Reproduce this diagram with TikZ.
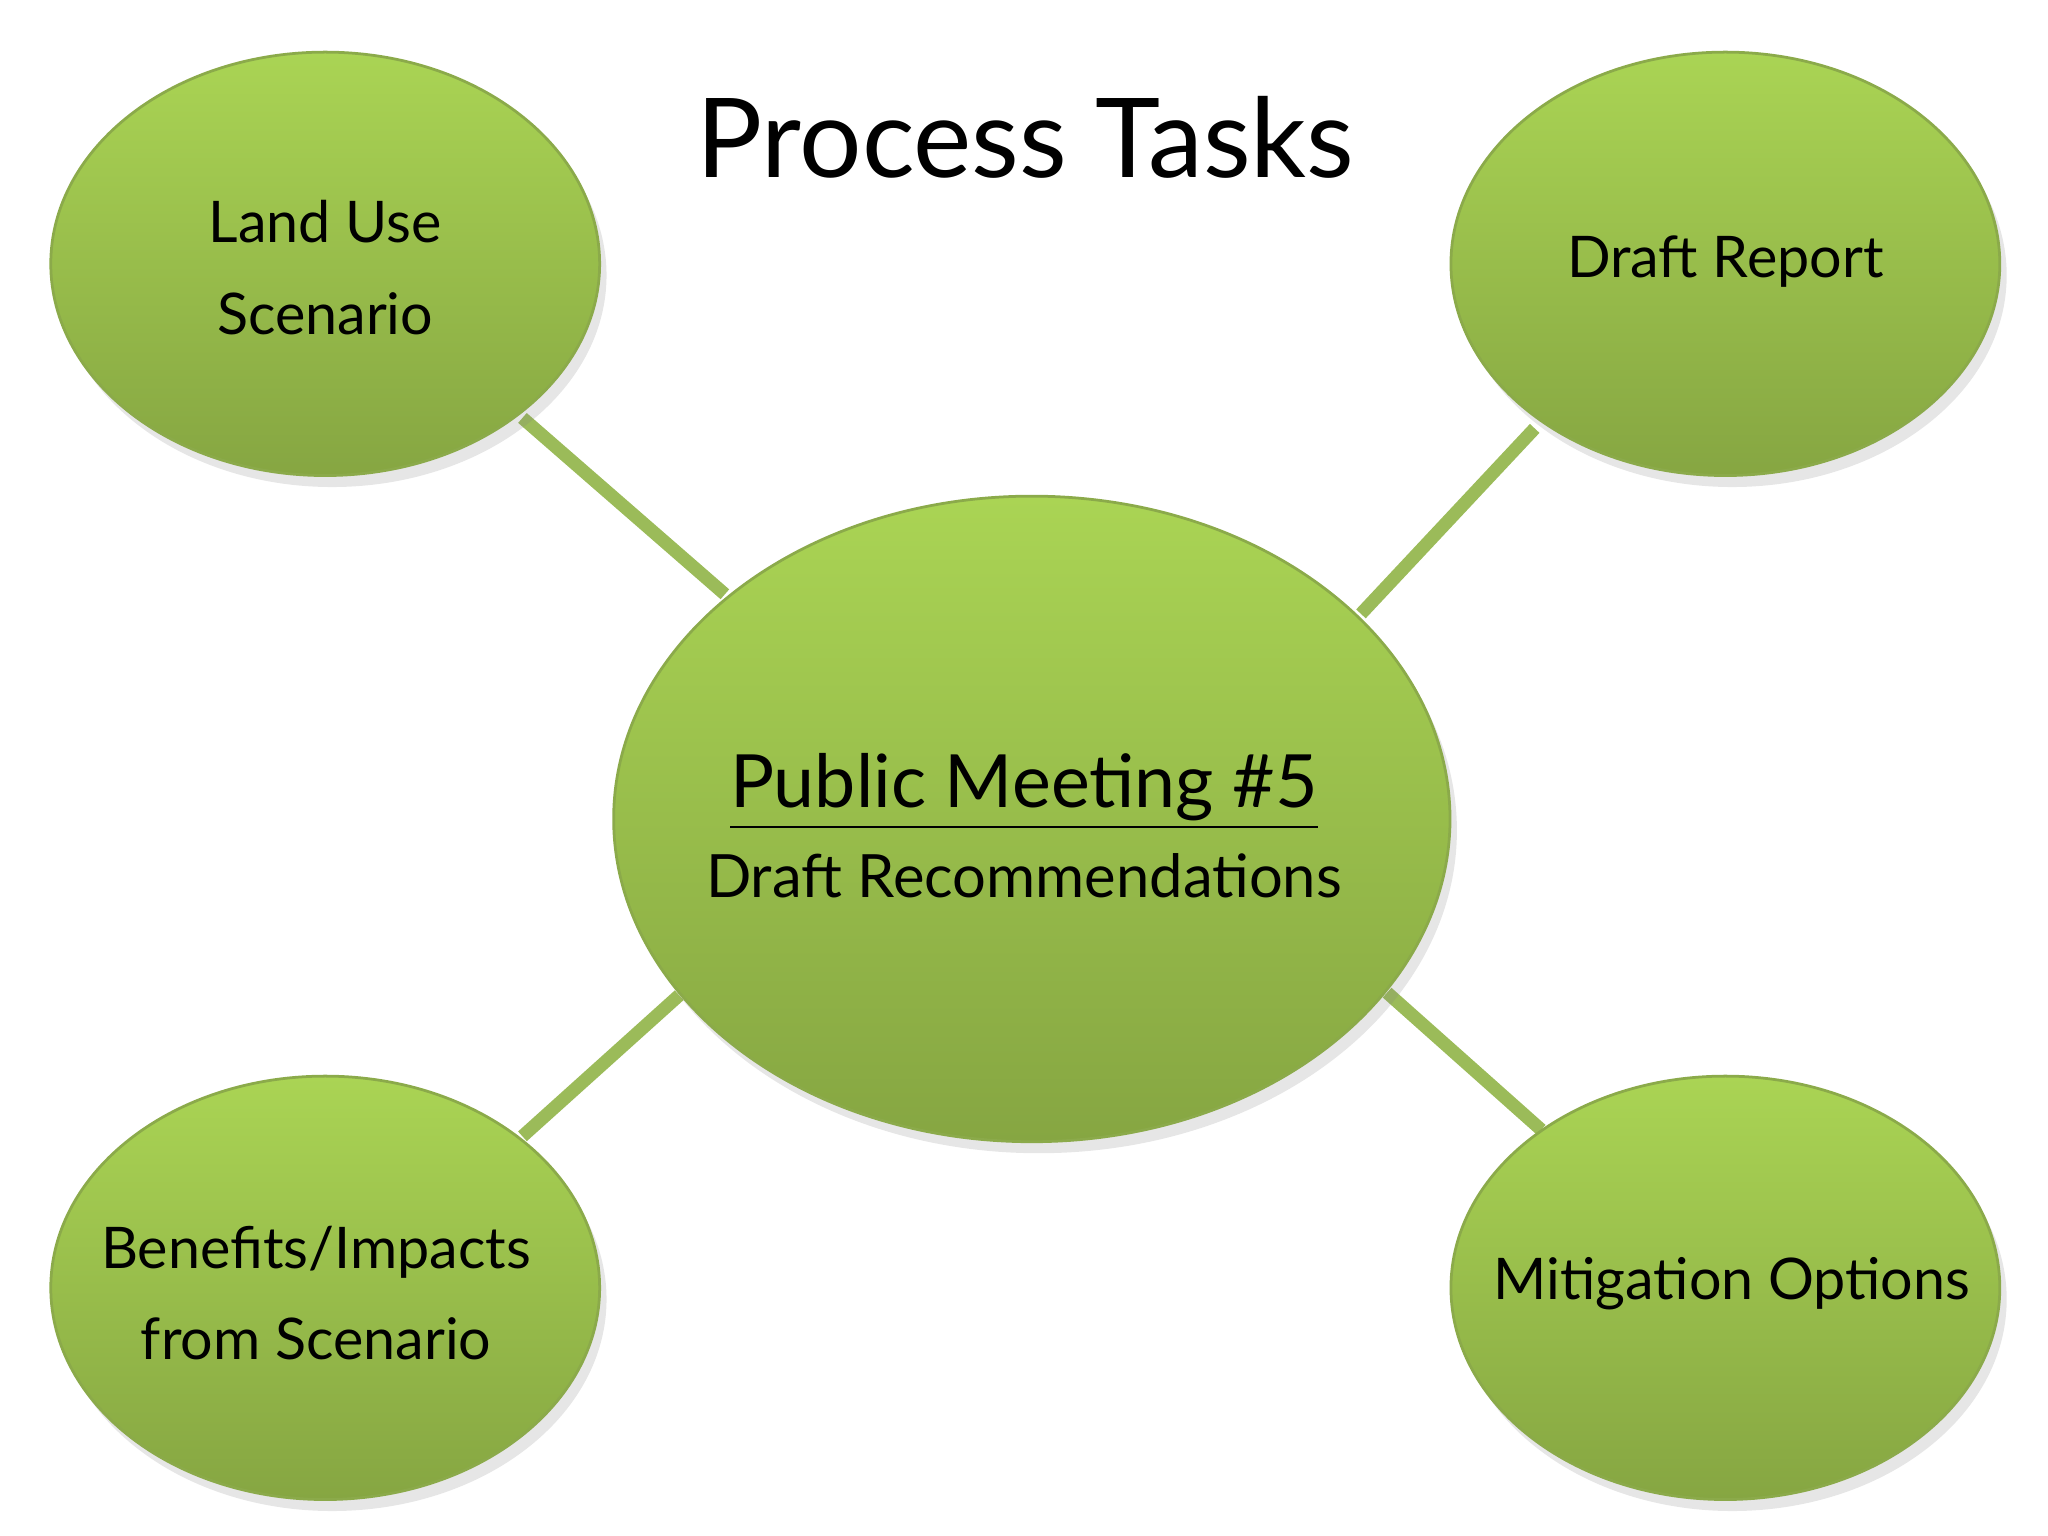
\documentclass[tikz,border=0pt]{standalone}
\usepackage{fontspec}
\setmainfont{Lato}
\usetikzlibrary{shadows,shapes.geometric}
\definecolor{gtop}{HTML}{AAD454}
\definecolor{gbot}{HTML}{86A642}
\definecolor{edge}{HTML}{8BAA4A}
\definecolor{link}{HTML}{9BBB59}
\begin{document}
\begin{tikzpicture}[x=0.01cm,y=-0.01cm,
  bub/.style={ellipse,draw=edge,line width=0.6pt,top color=gtop,bottom color=gbot,
    drop shadow={opacity=0.2,shadow xshift=1.5pt,shadow yshift=-2.5pt},inner sep=0pt},
  small/.style={bub,minimum width=4.2cm,minimum height=3.24cm},
  lbl/.style={align=center,font=\fontsize{12.5}{18}\selectfont},
  conn/.style={draw=link,line width=0.1cm}]
\useasboundingbox (0,0) rectangle (1568,1176);
\path[conn] (400,320) -- (555,455);
\path[conn] (1175,328) -- (1042,470);
\path[conn] (520,762) -- (400,870);
\path[conn] (1062,760) -- (1180,865);
\node[small] (lu) at (249,202) {};
\node[small] (dr) at (1321,202) {};
\node[small] (bi) at (249,986) {};
\node[small] (mo) at (1321,986) {};
\node[bub,minimum width=6.4cm,minimum height=4.94cm] (pm) at (790,627) {};
\node[lbl] (lut) at (249,205) {Land Use\\[2pt]Scenario};
\node[lbl] (drt) at (1321,200) {Draft Report};
\node[lbl] (bit) at (242,990) {Benefits/Impacts\\[2pt]from Scenario};
\node[lbl] (mot) at (1326,983) {Mitigation Options};
\node[align=center] (pmt) at (784,632) {{\fontsize{16}{20}\selectfont\underline{Public Meeting \#5}}\\[4pt]{\fontsize{13}{16}\selectfont Draft Recommendations}};
\node (title) at (785,105) {\fontsize{24}{30}\selectfont Process Tasks};
\end{tikzpicture}
\end{document}
